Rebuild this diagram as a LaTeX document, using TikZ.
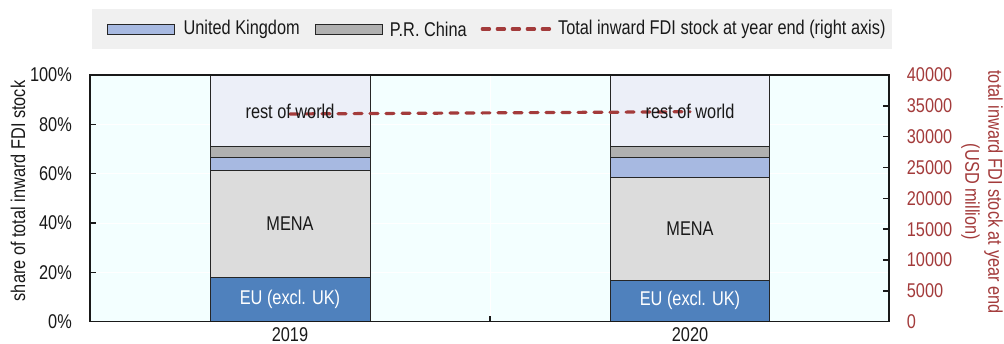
\documentclass[tikz,border=0pt]{standalone}
\usepackage{fontspec}
\setmainfont{Liberation Sans}[FakeStretch=0.82]
\usepackage{xcolor}
\definecolor{PlotBG}{HTML}{F3FFFF}
\definecolor{LegendBG}{HTML}{F0F0F0}
\definecolor{RestFill}{HTML}{ECEFF8}
\definecolor{ChinaFill}{HTML}{B0B0B0}
\definecolor{UKFill}{HTML}{A7B9E1}
\definecolor{MenaFill}{HTML}{DCDCDC}
\definecolor{EUFill}{HTML}{4F81BD}
\definecolor{FDIRed}{HTML}{A33B3B}
\usetikzlibrary{positioning}

\begin{document}
\begin{tikzpicture}[
    x=1pt, y=1pt,
    font=\fontsize{19.9}{22}\selectfont,
    txt/.style={inner sep=0pt, text=black!90},
    seg/.style={draw=black!85, line width=0.8pt},
    frame/.style={draw=black!90, line width=1.6pt},
    tick/.style={black!90, line width=1.4pt},
    grid/.style={white, line width=1pt},
    fdi/.style={FDIRed, line width=3.2pt, line cap=round, dash pattern=on 8pt off 8pt},
    swatch/.style={draw=black!85, line width=0.8pt, minimum width=67pt, minimum height=10pt, inner sep=0pt},
    ylab/.style={txt, anchor=east},
    rlab/.style={inner sep=0pt, anchor=west, text=FDIRed}
]
\useasboundingbox (0,0) rectangle (1004,344);

% legend
\node[fill=LegendBG, minimum width=800pt, minimum height=40pt, inner sep=0pt] (legend) at (492,315) {};
\node[swatch, fill=UKFill] (sw-uk) at (140.5,315) {};
\node[txt, right=9pt of sw-uk] (lg-uk) {United Kingdom};
\node[swatch, fill=ChinaFill, right=15pt of lg-uk] (sw-cn) {};
\node[txt, right=7pt of sw-cn] (lg-cn) {P.R. China};
\coordinate[right=15.5pt of lg-cn] (lg-a);
\coordinate[right=67pt of lg-a] (lg-b);
\draw[fdi, line width=3.5pt, dash pattern=on 7pt off 8pt] (lg-a) -- (lg-b);
\node[txt, right=8.5pt of lg-b] (lg-fdi) {Total inward FDI stock at year end (right axis)};

\begin{scope}[shift={(90,22.3)}, y=2.467pt]
% plot area
\fill[PlotBG] (0,0) rectangle (799,100);
\foreach \p in {20,40,60,80} \draw[grid] (0,\p) -- (799,\p);
\draw[grid] (400,0) -- (400,100);

% 2019
\draw[seg, fill=EUFill] (120.7,0) rectangle (280,18);
\draw[seg, fill=MenaFill] (120.7,18) rectangle (280,61.5);
\draw[seg, fill=UKFill] (120.7,61.5) rectangle (280,66.4);
\draw[seg, fill=ChinaFill] (120.7,66.4) rectangle (280,71.2);
\draw[seg, fill=RestFill] (120.7,71.2) rectangle (280,100);

% 2020
\draw[seg, fill=EUFill] (520,0) rectangle (679.3,16.9);
\draw[seg, fill=MenaFill] (520,16.9) rectangle (679.3,58.4);
\draw[seg, fill=UKFill] (520,58.4) rectangle (679.3,66.4);
\draw[seg, fill=ChinaFill] (520,66.4) rectangle (679.3,71.2);
\draw[seg, fill=RestFill] (520,71.2) rectangle (679.3,100);

% right-axis series
\coordinate (fdi19) at (200,84.2);
\coordinate (fdi20) at (600,85.1);
\draw[fdi] (fdi19) -- (fdi20);

\node[txt] (rest19) at (200,85.3) {rest of world};
\node[txt] (mena19) at (200,39.75) {MENA};
\node[txt, text=white] (eu19) at (200,9) {EU (excl. UK)};
\node[txt] (rest20) at (600,85.3) {rest of world};
\node[txt] (mena20) at (600,37.65) {MENA};
\node[txt, text=white] (eu20) at (600,8.45) {EU (excl. UK)};

% axes
\draw[frame] (0,0) rectangle (799,100);
\foreach \p in {20,40,60,80} \draw[tick] (0,\p) -- ++(6pt,0);
\foreach \p in {1,...,7} \draw[tick] (799,\p*12.5) -- ++(-6pt,0);
\draw[tick] (400,0) -- ++(0,6pt);

\foreach \p in {0,20,...,100} \node[ylab] (yl\p) at (-18,\p) {\p\%};
\foreach \v [count=\k from 0] in {0,5000,10000,15000,20000,25000,30000,35000,40000}
    \node[rlab] (yr\k) at (816.7,\k*12.5) {\v};
\end{scope}

\node[txt] (c19) at (290,9.5) {2019};
\node[txt] (c20) at (690,9.5) {2020};
\node[txt, rotate=90] (ytitle) at (18,153) {share of total inward FDI stock};
\node[inner sep=0pt, rotate=-90, align=center, text=FDIRed, font=\fontsize{19.9}{23}\selectfont] (y2title) at (982,152) {total inward FDI stock at year end\\(USD million)};
\end{tikzpicture}
\end{document}
